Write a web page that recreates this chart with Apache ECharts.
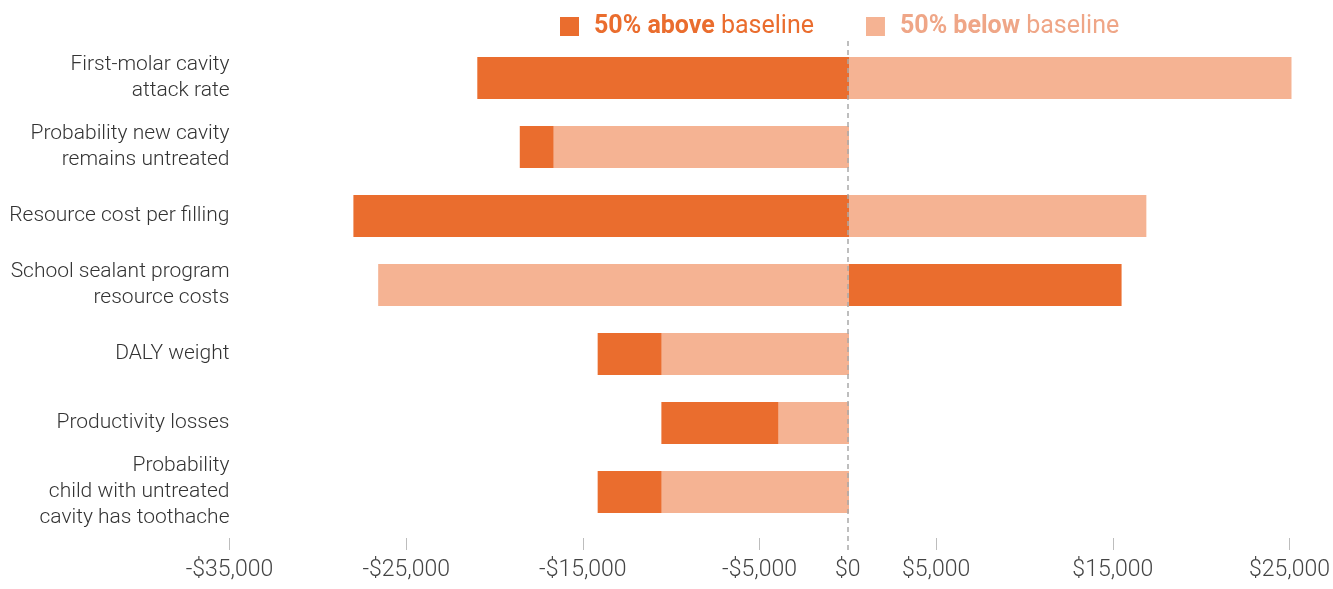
<!DOCTYPE html>
<html>
<head>
<meta charset="utf-8">
<script src="https://cdn.jsdelivr.net/npm/echarts@6/dist/echarts.min.js"></script>
<style>
html,body{margin:0;padding:0;background:#fff;}
#c{width:1333px;height:589px;}
</style>
</head>
<body>
<div id="c"></div>
<script>
const categories = [
  'First-molar cavity\nattack rate',
  'Probability new cavity\nremains untreated',
  'Resource cost per filling',
  'School sealant program\nresource costs',
  'DALY weight',
  'Productivity losses',
  'Probability\nchild with untreated\ncavity has toothache'
];
const seriesNames = ['50% above baseline', '50% below baseline'];
const aboveValues = [-21000, -18600, -28000, 15400, -14200, -10600, -14200];
const belowValues = [25000, -16700, 16800, -26600, -10600, -4000, -10600];
const tickValues = [-35000, -25000, -15000, -5000, 0, 5000, 15000, 25000];
const xMin = -35000, xMax = 25000;

const DARK = '#EA6D2E', LIGHT = '#F5B393', LIGHT_TEXT = '#EFA687';
const FONT = 'Roboto';

function fmtMoney(v){
  if (v === 0) return '$0';
  const s = Math.abs(v).toLocaleString('en-US');
  return (v < 0 ? '-$' : '$') + s;
}

const chart = echarts.init(document.getElementById('c'));
chart.setOption({
  animation: false,
  textStyle: { fontFamily: FONT },
  legend: {
    top: 9, left: 555,
    itemWidth: 19, itemHeight: 19, itemGap: 52,
    icon: 'rect',
    data: seriesNames,
    textStyle: {
      fontFamily: FONT, fontSize: 25, padding: [0, 0, 0, 10],
      rich: {
        a: { fontFamily: FONT, fontSize: 25, fontWeight: 'bold', color: DARK },
        c: { fontFamily: FONT, fontSize: 25, fontWeight: 'normal', color: DARK },
        b: { fontFamily: FONT, fontSize: 25, fontWeight: 'bold', color: LIGHT_TEXT },
        d: { fontFamily: FONT, fontSize: 25, fontWeight: 'normal', color: LIGHT_TEXT }
      }
    },
    formatter: function(name){
      const i = seriesNames.indexOf(name);
      const parts = name.split(' baseline');
      return i === 0 ? '{a|' + parts[0] + '} {c|baseline}' : '{b|' + parts[0] + '} {d|baseline}';
    },
    selectedMode: false
  },
  grid: [
    { left: 229.5, right: 41.5, top: 43.5, bottom: 62.5 },
    { left: 229.5, right: 41.5, top: 37, bottom: 39 }
  ],
  xAxis: [
    { type: 'value', gridIndex: 0, min: xMin, max: xMax, show: false, splitLine: { show: false } },
    {
      type: 'value', gridIndex: 1, min: xMin, max: xMax,
      axisLine: { show: false },
      splitLine: { show: false },
      axisTick: { show: true, inside: true, length: 12, lineStyle: { color: '#bdbdbd', width: 1 },
                  customValues: tickValues.filter(v => v !== 0) },
      axisLabel: { customValues: tickValues, formatter: fmtMoney, margin: 9,
                   fontFamily: FONT, fontSize: 23, fontWeight: 300, color: '#444' }
    }
  ],
  yAxis: [
    {
      type: 'category', gridIndex: 0, data: categories, inverse: true,
      axisLine: { show: false }, axisTick: { show: false },
      axisLabel: { margin: 0, fontFamily: FONT, fontSize: 21, fontWeight: 300, color: '#333',
                   lineHeight: 26, align: 'right' }
    },
    { type: 'value', gridIndex: 1, min: 0, max: 1, show: false }
  ],
  series: [
    {
      name: seriesNames[0], type: 'bar', xAxisIndex: 0, yAxisIndex: 0,
      data: aboveValues, barWidth: 42, barGap: '-100%',
      itemStyle: { color: DARK }
    },
    {
      name: seriesNames[1], type: 'bar', xAxisIndex: 0, yAxisIndex: 0,
      data: belowValues, barWidth: 42, barGap: '-100%',
      itemStyle: { color: LIGHT }
    },
    {
      type: 'line', xAxisIndex: 1, yAxisIndex: 1, data: [], silent: true,
      markLine: {
        silent: true, symbol: 'none', label: { show: false },
        lineStyle: { color: '#a9a9a9', type: [5, 4], width: 1.5 },
        data: [{ xAxis: 0 }]
      }
    }
  ]
});
</script>
</body>
</html>
